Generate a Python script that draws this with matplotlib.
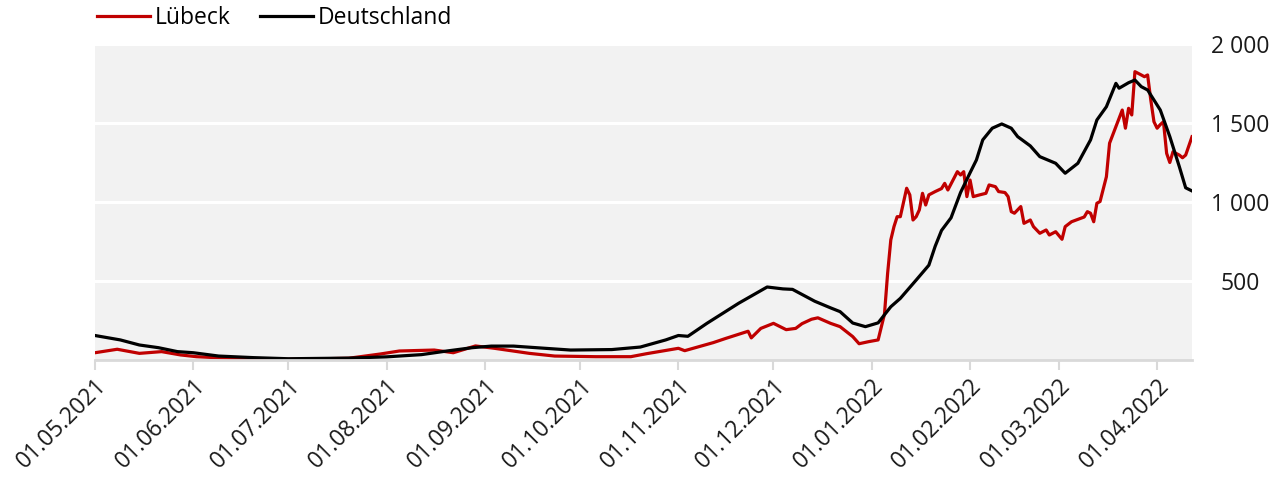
import matplotlib
matplotlib.use('Agg')
import matplotlib.pyplot as plt
import matplotlib.dates as mdates
from matplotlib.ticker import FuncFormatter
import pandas as pd

plt.rcParams['font.family'] = ['Open Sans', 'DejaVu Sans']

# Lübeck, 7-Tage-Inzidenz
luebeck_dates = [
    "2021-05-01", "2021-05-08", "2021-05-15", "2021-05-22", "2021-05-28", "2021-06-02",
    "2021-06-12", "2021-06-28", "2021-07-20", "2021-07-30", "2021-08-05", "2021-08-16",
    "2021-08-22", "2021-08-29", "2021-09-04", "2021-09-15", "2021-09-23", "2021-10-06",
    "2021-10-17", "2021-10-22", "2021-11-01", "2021-11-03", "2021-11-12", "2021-11-16",
    "2021-11-23", "2021-11-24", "2021-11-27", "2021-12-01", "2021-12-05", "2021-12-08",
    "2021-12-10", "2021-12-13", "2021-12-15", "2021-12-19", "2021-12-22", "2021-12-26",
    "2021-12-28", "2021-12-31", "2022-01-03", "2022-01-05", "2022-01-06", "2022-01-07",
    "2022-01-08", "2022-01-09", "2022-01-10", "2022-01-12", "2022-01-13", "2022-01-14",
    "2022-01-15", "2022-01-16", "2022-01-17", "2022-01-18", "2022-01-19", "2022-01-21",
    "2022-01-23", "2022-01-24", "2022-01-25", "2022-01-28", "2022-01-29", "2022-01-30",
    "2022-01-31", "2022-02-01", "2022-02-02", "2022-02-04", "2022-02-06", "2022-02-07",
    "2022-02-09", "2022-02-10", "2022-02-12", "2022-02-13", "2022-02-14", "2022-02-15",
    "2022-02-17", "2022-02-18", "2022-02-20", "2022-02-21", "2022-02-23", "2022-02-25",
    "2022-02-26", "2022-02-28", "2022-03-02", "2022-03-03", "2022-03-05", "2022-03-07",
    "2022-03-09", "2022-03-10", "2022-03-11", "2022-03-12", "2022-03-13", "2022-03-14",
    "2022-03-16", "2022-03-17", "2022-03-19", "2022-03-21", "2022-03-22", "2022-03-23",
    "2022-03-24", "2022-03-25", "2022-03-27", "2022-03-28", "2022-03-29", "2022-03-30",
    "2022-03-31", "2022-04-01", "2022-04-02", "2022-04-03", "2022-04-04", "2022-04-05",
    "2022-04-06", "2022-04-08", "2022-04-09", "2022-04-10", "2022-04-12",
]
luebeck_values = [
    46, 68, 42, 53, 32, 21,
    11, 3, 11, 38, 57, 63,
    46, 89, 74, 42, 25, 21,
    21, 40, 74, 59, 110, 137,
    182, 140, 200, 232, 192, 200,
    230, 258, 267, 232, 211, 148,
    103, 116, 127, 290, 549, 760,
    844, 907, 907, 1087, 1045, 886,
    907, 950, 1055, 981, 1045, 1066,
    1085, 1118, 1076, 1192, 1171, 1192,
    1034, 1139, 1034, 1045, 1055, 1108,
    1097, 1066, 1060, 1034, 939, 929,
    971, 865, 886, 844, 802, 823,
    791, 812, 764, 844, 875, 890,
    905, 939, 929, 875, 992, 1003,
    1160, 1372, 1477, 1582, 1467, 1593,
    1551, 1825, 1804, 1793, 1804, 1646,
    1508, 1467, 1490, 1508, 1308, 1250,
    1318, 1297, 1280, 1297, 1413,
]

# Deutschland
de_dates = [
    "2021-05-01", "2021-05-09", "2021-05-15", "2021-05-21", "2021-05-27", "2021-06-01",
    "2021-06-09", "2021-06-20", "2021-07-01", "2021-07-20", "2021-08-01", "2021-08-12",
    "2021-08-20", "2021-08-28", "2021-09-03", "2021-09-10", "2021-09-20", "2021-09-28",
    "2021-10-11", "2021-10-20", "2021-10-28", "2021-11-01", "2021-11-04", "2021-11-10",
    "2021-11-20", "2021-11-29", "2021-12-04", "2021-12-07", "2021-12-14", "2021-12-19",
    "2021-12-22", "2021-12-26", "2021-12-30", "2022-01-03", "2022-01-07", "2022-01-10",
    "2022-01-15", "2022-01-19", "2022-01-21", "2022-01-23", "2022-01-26", "2022-01-29",
    "2022-02-01", "2022-02-03", "2022-02-05", "2022-02-08", "2022-02-11", "2022-02-14",
    "2022-02-16", "2022-02-20", "2022-02-23", "2022-02-28", "2022-03-03", "2022-03-07",
    "2022-03-11", "2022-03-13", "2022-03-16", "2022-03-19", "2022-03-20", "2022-03-23",
    "2022-03-25", "2022-03-27", "2022-03-29", "2022-04-02", "2022-04-05", "2022-04-08",
    "2022-04-10", "2022-04-12",
]
de_values = [
    155, 127, 95, 78, 53, 46,
    25, 15, 8, 12, 20, 34,
    57, 78, 88, 88, 74, 63,
    66, 82, 127, 155, 150, 232,
    359, 462, 450, 447, 372, 330,
    306, 234, 211, 235, 337, 390,
    506, 600, 720, 820, 900, 1060,
    1185, 1266, 1393, 1467, 1494, 1467,
    1414, 1355, 1287, 1245, 1182, 1245,
    1393, 1519, 1603, 1751, 1720, 1755,
    1772, 1730, 1709, 1582, 1414, 1224,
    1090, 1070,
]

month_ticks = pd.date_range("2021-05-01", "2022-04-01", freq="MS")

fig = plt.figure(figsize=(12.82, 4.8), dpi=100)
ax = fig.add_axes([95 / 1282, 1 - 360 / 480, (1192 - 95) / 1282, (360 - 44) / 480])
ax.set_facecolor('#f2f2f2')

ax.plot(pd.to_datetime(luebeck_dates), luebeck_values, color='#c00000', lw=2.3, label='Lübeck')
ax.plot(pd.to_datetime(de_dates), de_values, color='#000000', lw=2.3, label='Deutschland')

ax.set_xlim(pd.Timestamp("2021-05-01"), pd.Timestamp("2022-04-12"))
ax.set_ylim(0, 2000)

# y axis on the right, no marks, white grid
ax.yaxis.tick_right()
ax.set_yticks([500, 1000, 1500, 2000])
ax.yaxis.set_major_formatter(FuncFormatter(lambda v, p: f"{int(v):,}".replace(",", " ")))
ax.tick_params(axis='y', length=0, pad=35, labelsize=16.5, labelcolor='#1a1a1a')
for lbl in ax.get_yticklabels():
    lbl.set_horizontalalignment('center')
ax.grid(axis='y', color='white', lw=2.2)
ax.set_axisbelow(True)

ax.set_xticks(month_ticks)
ax.xaxis.set_major_formatter(mdates.DateFormatter('%d.%m.%Y'))
ax.tick_params(axis='x', length=7, width=1.5, color='#d9d9d9', labelsize=16.5,
               labelcolor='#1a1a1a', pad=3)
for lbl in ax.get_xticklabels():
    lbl.set_rotation(45)
    lbl.set_horizontalalignment('right')
    lbl.set_rotation_mode('anchor')

for side in ['top', 'left', 'right']:
    ax.spines[side].set_visible(False)
ax.spines['bottom'].set_color('#d9d9d9')
ax.spines['bottom'].set_linewidth(2)

fig.legend(loc='center left', bbox_to_anchor=(97 / 1282, 1 - 18 / 480), ncol=2,
           frameon=False, fontsize=16.5, handlelength=2.3, handletextpad=0.22,
           columnspacing=1.3, borderpad=0, borderaxespad=0)

plt.savefig('out.png', dpi=100)
plt.close()
print("Chart saved: out.png")
